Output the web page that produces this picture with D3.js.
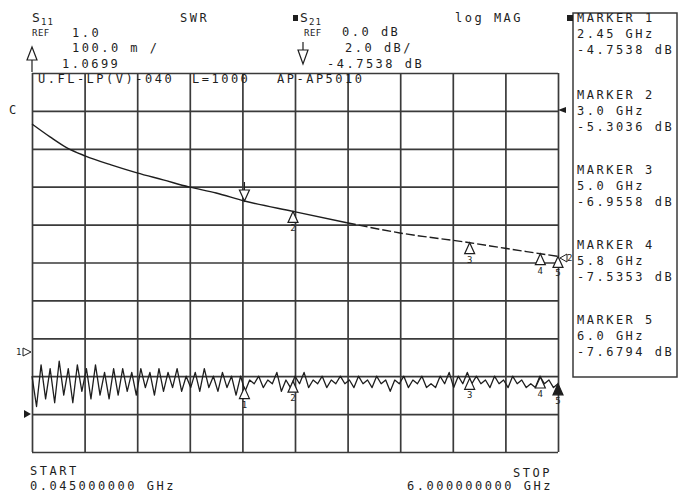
<!DOCTYPE html>
<html>
<head>
<meta charset="utf-8">
<script src="https://cdn.jsdelivr.net/npm/d3@7"></script>
<style>
  body { margin: 0; background: #fff; }
  svg text { font-family: "DejaVu Sans Mono", monospace; font-size: 12px; letter-spacing: 2.5px; fill: #1e1e1e; }
  .grid line { stroke: #3a3a3a; stroke-width: 1.7; }
  .grid path { display: none; }
</style>
</head>
<body>
<svg id="vna" width="679" height="495"></svg>
<script>
/**
 * Data
 */
const startGHz = 0.045;
const stopGHz = 6.0;

// S21 log mag trace (GHz / dB)
const s21Freq = [0.045, 0.249, 0.441, 0.645, 0.94, 1.234, 1.53, 1.82, 2.13, 2.45, 3.0, 3.61, 4.21, 5.0, 5.4, 5.8, 6.0];
const s21Db = [-0.69, -1.37, -1.95, -2.37, -2.85, -3.27, -3.64, -4.01, -4.33, -4.7538, -5.3036, -5.9, -6.44, -6.9558, -7.25, -7.5353, -7.6794];

// S11 SWR trace, one value per sweep point
const swrValues = [
  1.10, 1.02, 1.13, 1.04, 1.12, 1.03, 1.14, 1.05, 1.12, 1.03, 1.13, 1.06, 1.12, 1.04, 1.13, 1.05, 1.11, 1.04, 1.12, 1.05, 1.12, 1.06, 1.11, 1.05,
  1.12, 1.07, 1.11, 1.05, 1.12, 1.06, 1.11, 1.07, 1.12, 1.06, 1.10, 1.07, 1.11, 1.06, 1.12, 1.07, 1.10, 1.06, 1.11, 1.07, 1.10, 1.05,
  1.10, 1.06, 1.09, 1.08, 1.10, 1.07, 1.09, 1.08, 1.11, 1.06, 1.09, 1.07, 1.10, 1.08, 1.11, 1.07, 1.09, 1.08, 1.10, 1.07, 1.09, 1.08,
  1.10, 1.08, 1.09, 1.07, 1.10, 1.08, 1.09, 1.07, 1.10, 1.08, 1.09, 1.06, 1.09, 1.08, 1.10, 1.07, 1.09, 1.08, 1.10, 1.07, 1.08, 1.07, 1.10, 1.08,
  1.11, 1.07, 1.10, 1.08, 1.11, 1.08, 1.10, 1.08, 1.09, 1.07, 1.10, 1.08, 1.09, 1.07, 1.10, 1.08, 1.09, 1.07, 1.08, 1.07, 1.10, 1.08, 1.09, 1.07, 1.08
];

// markers
const markerNames = ["MARKER 1", "MARKER 2", "MARKER 3", "MARKER 4", "MARKER 5"];
const markerFreq = [2.45, 3.0, 5.0, 5.8, 6.0];
const markerFreqLabels = ["2.45 GHz", "3.0 GHz", "5.0 GHz", "5.8 GHz", "6.0 GHz"];
const markerDbLabels = ["-4.7538 dB", "-5.3036 dB", "-6.9558 dB", "-7.5353 dB", "-7.6794 dB"];

/**
 * Canvas
 */
const svg = d3.select("#vna");
const plot = { left: 32, right: 558, top: 73, bottom: 452 };

const xScale = d3.scaleLinear().domain([startGHz, stopGHz]).range([plot.left, plot.right]);
const dbScale = d3.scaleLinear().domain([-18, 2]).range([plot.bottom, plot.top]);     // REF 0.0 dB, 2 dB/div
const swrScale = d3.scaleLinear().domain([0.9, 1.9]).range([plot.bottom, plot.top]);  // REF 1.0, 100 m/div

// graticule: 10 x 10 divisions
const xTicks = d3.range(11).map(i => startGHz + i * (stopGHz - startGHz) / 10);
const yTicks = d3.range(11).map(i => -18 + i * 2);

svg.append("g")
   .attr("class", "grid")
   .attr("transform", "translate(0," + plot.bottom + ")")
   .call(d3.axisBottom(xScale).tickValues(xTicks).tickSize(-(plot.bottom - plot.top)).tickFormat(""));

svg.append("g")
   .attr("class", "grid")
   .attr("transform", "translate(" + plot.left + ",0)")
   .call(d3.axisLeft(dbScale).tickValues(yTicks).tickSize(-(plot.right - plot.left)).tickFormat(""));

/**
 * Traces
 */
const s21 = s21Freq.map((f, i) => ({ f: f, v: s21Db[i] }));
const dbLine = d3.line().x(d => xScale(d.f)).y(d => dbScale(d.v)).curve(d3.curveMonotoneX);

svg.append("path")
   .datum(s21.filter(d => d.f <= 3.61))
   .attr("d", dbLine)
   .attr("fill", "none").attr("stroke", "#1e1e1e").attr("stroke-width", 1.4);

svg.append("path")
   .datum(s21.filter(d => d.f >= 3.61))
   .attr("d", dbLine)
   .attr("fill", "none").attr("stroke", "#1e1e1e").attr("stroke-width", 1.4)
   .attr("stroke-dasharray", "9,3");

const step = (stopGHz - startGHz) / (swrValues.length - 1);
const s11 = swrValues.map((v, i) => ({ f: startGHz + i * step, v: v }));
const swrLine = d3.line().x(d => xScale(d.f)).y(d => swrScale(d.v));

svg.append("path")
   .datum(s11)
   .attr("d", swrLine)
   .attr("fill", "none").attr("stroke", "#1e1e1e").attr("stroke-width", 1.3).attr("stroke-linejoin", "round");

/**
 * Marker symbols
 */
let swrAt = (f) => {
  const i = Math.min(swrValues.length - 2, Math.floor((f - startGHz) / step));
  const t = (f - s11[i].f) / step;
  return s11[i].v + (s11[i + 1].v - s11[i].v) * t;
};

let triangle = (x, y, up, filled) => {
  const h = up ? 11 : -11;
  svg.append("path")
     .attr("d", "M" + x + "," + y + "L" + (x - 5) + "," + (y + h) + "L" + (x + 5) + "," + (y + h) + "Z")
     .attr("fill", filled ? "#1e1e1e" : "#fff").attr("stroke", "#1e1e1e").attr("stroke-width", 1.2);
};

markerFreq.forEach((f, i) => {
  const x = xScale(f);
  const yDb = dbScale(s21Db[s21Freq.indexOf(f)]);
  if (i === 0) {
    triangle(x, yDb, false, false);
    svg.append("line").attr("x1", x).attr("x2", x).attr("y1", yDb - 11).attr("y2", yDb - 19)
       .attr("stroke", "#1e1e1e").attr("stroke-width", 1.2);
  } else {
    triangle(x, yDb, true, false);
    svg.append("text").attr("x", x).attr("y", yDb + 20).attr("text-anchor", "middle")
       .style("font-size", "9px").style("letter-spacing", "0px").text(i + 1);
  }

  const ySwr = swrScale(i === 0 ? 1.0699 : swrAt(f));
  triangle(x, ySwr, true, i === 4);
  svg.append("text").attr("x", x).attr("y", ySwr + 20).attr("text-anchor", "middle")
     .style("font-size", "9px").style("letter-spacing", "0px").text(i + 1);
});

/**
 * Annotations
 */
let label = (x, y, str, size) => {
  const t = svg.append("text").attr("x", x).attr("y", y).attr("dy", "0.35em").text(str);
  if (size) t.style("font-size", size + "px");
  return t;
};

// channel 1 (S11, SWR)
label(32, 17, "S", 13).style("letter-spacing", "0px");
label(41, 22, "11", 9).style("letter-spacing", "1px");
label(32, 33, "REF", 9).style("letter-spacing", "0.5px");
label(72, 33, "1.0");
label(72, 48, "100.0 m /");
label(62, 64, "1.0699");
label(180, 18, "SWR");

// channel 2 (S21, log mag)
svg.append("rect").attr("x", 293).attr("y", 15).attr("width", 5).attr("height", 6).attr("fill", "#1e1e1e");
label(300, 17, "S", 13).style("letter-spacing", "0px");
label(309, 22, "21", 9).style("letter-spacing", "1px");
label(304, 33, "REF", 9).style("letter-spacing", "0.5px");
label(342, 32, "0.0 dB");
label(345, 48, "2.0 dB/");
label(327, 64, "-4.7538 dB");
label(455, 18, "log MAG");

// active marker arrows
svg.append("path").attr("d", "M32,47L27,60L37,60Z M32,60L32,72").attr("fill", "#fff").attr("stroke", "#1e1e1e").attr("stroke-width", 1.2);
svg.append("path").attr("d", "M303,42L303,50 M298,50L308,50L303,64Z").attr("fill", "#fff").attr("stroke", "#1e1e1e").attr("stroke-width", 1.2);

// title row in graticule
label(38, 79, "U.FL-LP(V)-040");
label(192, 79, "L=1000");
label(277, 79, "AP-AP5010");

// reference position indicators
label(9, 110, "C", 12);
svg.append("path").attr("d", "M558,110L566,107L566,113Z").attr("fill", "#1e1e1e");
label(16, 352, "1", 9).style("letter-spacing", "0px");
svg.append("path").attr("d", "M23,348L31,352L23,356Z").attr("fill", "none").attr("stroke", "#1e1e1e").attr("stroke-width", 1);
svg.append("path").attr("d", "M24,410L31,414L24,418Z").attr("fill", "#1e1e1e");
svg.append("path").attr("d", "M560,258L567,254L567,262Z").attr("fill", "none").attr("stroke", "#1e1e1e").attr("stroke-width", 1);
label(567, 258, "2", 9).style("letter-spacing", "0px");

// start / stop
label(30, 471, "START");
label(30, 486, "0.045000000 GHz");
label(513, 473, "STOP");
label(407, 486, "6.000000000 GHz");

/**
 * Marker table
 */
svg.append("rect").attr("x", 573).attr("y", 13).attr("width", 104).attr("height", 364)
   .attr("fill", "none").attr("stroke", "#3a3a3a").attr("stroke-width", 1.5);
svg.append("rect").attr("x", 567).attr("y", 15).attr("width", 6).attr("height", 6).attr("fill", "#1e1e1e");

const rowTop = [18, 95, 170, 245, 320];
markerNames.forEach((name, i) => {
  label(577, rowTop[i], name);
  label(577, rowTop[i] + 16, markerFreqLabels[i]);
  label(577, rowTop[i] + 32, markerDbLabels[i]);
});
</script>
</body>
</html>
